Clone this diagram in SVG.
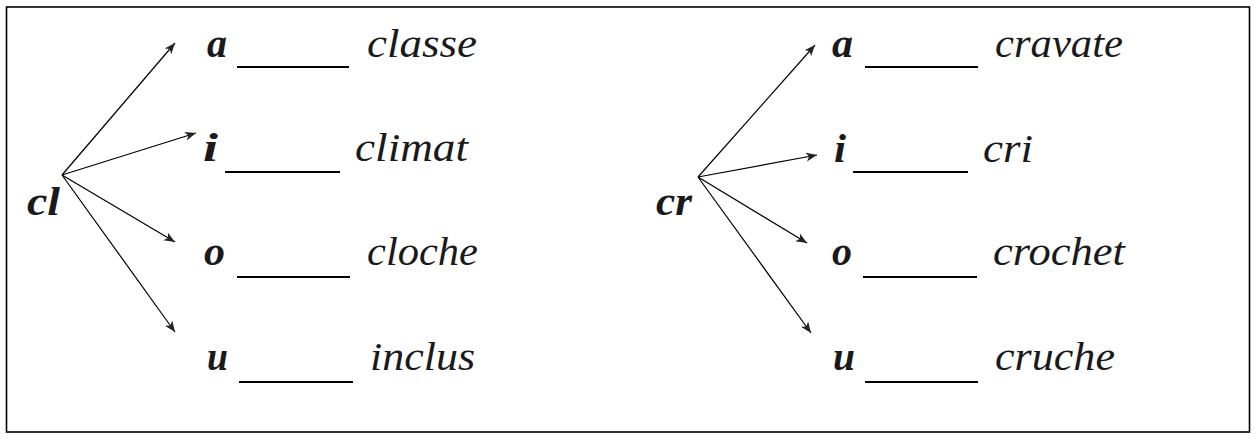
<svg xmlns="http://www.w3.org/2000/svg" width="1258" height="440" viewBox="0 0 1258 440">
  <style>
    .frame { fill: #fff; stroke: #000; stroke-width: 1.6; }
    .conn { stroke: #000; stroke-width: 1.2; fill: none; marker-end: url(#arr); }
    .vow, .root { font-family: 'Liberation Serif', 'Times New Roman', serif; font-style: italic; font-weight: bold; font-size: 40px; fill: #1a1a1a; }
    .word { font-family: 'Liberation Serif', 'Times New Roman', serif; font-style: italic; font-size: 40px; fill: #1a1a1a; }
    .blank { stroke: #000; stroke-width: 2.2; }
  </style>
  <defs>
    <marker id="arr" markerUnits="userSpaceOnUse" markerWidth="12" markerHeight="10" refX="11" refY="4.5" orient="auto">
      <path d="M0,0 L11,4.5 L0,9 L3,4.5 z" fill="#222"/>
    </marker>
  </defs>
  <rect class="frame" x="6.5" y="7" width="1243" height="425"/>

  <g id="connectors">
    <line class="conn" x1="62" y1="175" x2="175" y2="43"/>
    <line class="conn" x1="62" y1="175" x2="196" y2="133"/>
    <line class="conn" x1="62" y1="175" x2="175" y2="242"/>
    <line class="conn" x1="62" y1="175" x2="175" y2="332"/>
    <line class="conn" x1="698" y1="177" x2="815" y2="45"/>
    <line class="conn" x1="698" y1="177" x2="817" y2="155"/>
    <line class="conn" x1="698" y1="177" x2="807" y2="243"/>
    <line class="conn" x1="698" y1="177" x2="811" y2="333"/>
  </g>

  <g id="node-cl"><text class="root" x="27" y="215" textLength="33" lengthAdjust="spacingAndGlyphs">cl</text></g>
  <g id="node-cr"><text class="root" x="656" y="215" textLength="36" lengthAdjust="spacingAndGlyphs">cr</text></g>

  <g id="node-cl-a">
    <text class="vow" x="207" y="57" textLength="20" lengthAdjust="spacingAndGlyphs">a</text>
    <line class="blank" x1="237" y1="67" x2="349" y2="67"/>
    <text class="word" x="367" y="57" textLength="110" lengthAdjust="spacingAndGlyphs">classe</text>
  </g>
  <g id="node-cl-i">
    <text class="vow" x="203" y="161" textLength="15" lengthAdjust="spacingAndGlyphs">i</text>
    <line class="blank" x1="225" y1="172" x2="340" y2="172"/>
    <text class="word" x="355" y="161" textLength="113" lengthAdjust="spacingAndGlyphs">climat</text>
  </g>
  <g id="node-cl-o">
    <text class="vow" x="204" y="265" textLength="21" lengthAdjust="spacingAndGlyphs">o</text>
    <line class="blank" x1="237" y1="277" x2="350" y2="277"/>
    <text class="word" x="367" y="265" textLength="111" lengthAdjust="spacingAndGlyphs">cloche</text>
  </g>
  <g id="node-cl-u">
    <text class="vow" x="207" y="370" textLength="21" lengthAdjust="spacingAndGlyphs">u</text>
    <line class="blank" x1="239" y1="382" x2="353" y2="382"/>
    <text class="word" x="370" y="370" textLength="105" lengthAdjust="spacingAndGlyphs">inclus</text>
  </g>

  <g id="node-cr-a">
    <text class="vow" x="832" y="57" textLength="21" lengthAdjust="spacingAndGlyphs">a</text>
    <line class="blank" x1="865" y1="67" x2="978" y2="67"/>
    <text class="word" x="995" y="57" textLength="128" lengthAdjust="spacingAndGlyphs">cravate</text>
  </g>
  <g id="node-cr-i">
    <text class="vow" x="834" y="162" textLength="12" lengthAdjust="spacingAndGlyphs">i</text>
    <line class="blank" x1="853" y1="172" x2="968" y2="172"/>
    <text class="word" x="983" y="162" textLength="50" lengthAdjust="spacingAndGlyphs">cri</text>
  </g>
  <g id="node-cr-o">
    <text class="vow" x="832" y="265" textLength="20" lengthAdjust="spacingAndGlyphs">o</text>
    <line class="blank" x1="863" y1="277" x2="977" y2="277"/>
    <text class="word" x="993" y="265" textLength="132" lengthAdjust="spacingAndGlyphs">crochet</text>
  </g>
  <g id="node-cr-u">
    <text class="vow" x="833" y="370" textLength="22" lengthAdjust="spacingAndGlyphs">u</text>
    <line class="blank" x1="865" y1="382" x2="978" y2="382"/>
    <text class="word" x="995" y="370" textLength="120" lengthAdjust="spacingAndGlyphs">cruche</text>
  </g>
</svg>
